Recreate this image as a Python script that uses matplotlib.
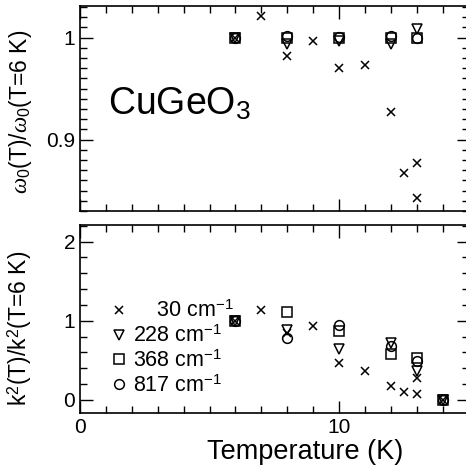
import numpy as np
import matplotlib
matplotlib.use('Agg')
import matplotlib.pyplot as plt
from matplotlib.ticker import MultipleLocator

plt.rcParams['font.family'] = ['Liberation Sans', 'DejaVu Sans']
plt.rcParams['mathtext.fontset'] = 'custom'
plt.rcParams['mathtext.rm'] = 'Liberation Sans'
plt.rcParams['mathtext.it'] = 'Liberation Serif:italic'

# top panel: omega0(T)/omega0(T=6K)
T_top_30 = [6, 7, 8, 9, 10, 11, 12, 12.5, 13, 13]
w_30 = [1.0, 1.021, 0.982, 0.997, 0.970, 0.973, 0.927, 0.867, 0.877, 0.843]
T_top = [6, 8, 10, 12, 13]
w_228 = [1.0, 0.994, 0.997, 0.994, 1.008]
w_368 = [1.0, 1.0, 1.0, 1.0, 1.0]
w_817 = [1.0, 1.002, 1.001, 1.002, 1.0]

# bottom panel: k^2(T)/k^2(T=6K)
T_bot_30 = [6, 7, 8, 9, 10, 11, 12, 12.5, 13, 13, 14]
k_30 = [1.0, 1.13, 0.85, 0.93, 0.46, 0.37, 0.17, 0.105, 0.27, 0.08, 0.0]
T_bot = [6, 8, 10, 12, 13, 14]
k_228 = [1.0, 0.88, 0.64, 0.72, 0.36, 0.0]
k_368 = [1.0, 1.11, 0.87, 0.58, 0.53, 0.0]
k_817 = [1.0, 0.78, 0.95, 0.68, 0.49, 0.0]

labels = ['    30 cm$^{-1}$', '228 cm$^{-1}$', '368 cm$^{-1}$', '817 cm$^{-1}$']

fig = plt.figure(figsize=(4.66, 4.72), dpi=100)
ax1 = fig.add_axes([80 / 466, 1 - 211 / 472, 388.5 / 466, 205 / 472])
ax2 = fig.add_axes([80 / 466, 1 - 413.3 / 472, 388.5 / 466, 188.3 / 472])

mk = dict(linestyle='none', color='black', mfc='none', mew=1.1)


def style(ax):
    ax.set_xlim(0, 15)
    ax.xaxis.set_major_locator(MultipleLocator(10))
    ax.xaxis.set_minor_locator(MultipleLocator(1))
    ax.tick_params(which='both', direction='in', top=True, right=True,
                   labelsize=15, width=1)
    ax.tick_params(which='major', length=9)
    ax.tick_params(which='minor', length=5)
    for s in ax.spines.values():
        s.set_linewidth(1.2)


# top
ax1.plot(T_top, w_368, marker='s', ms=7, **mk)
ax1.plot(T_top, w_817, marker='o', ms=7, **mk)
ax1.plot(T_top, w_228, marker='v', ms=7, **mk)
ax1.plot(T_top_30, w_30, marker='x', ms=6, **mk)
style(ax1)
ax1.set_ylim(0.83, 1.031)
ax1.yaxis.set_minor_locator(MultipleLocator(0.01))
ax1.set_yticks([0.9, 1.0])
ax1.set_yticklabels(['0.9', '1'])
ax1.tick_params(axis='x', labelbottom=False)
ax1.set_ylabel(r'$\omega_0$(T)/$\omega_0$(T=6 K)', fontsize=16.5)
ax1.yaxis.set_label_coords(-0.118, 0.483)
ax1.text(0.072, 0.468, 'CuGeO$_3$', transform=ax1.transAxes,
         fontsize=27, va='baseline')

# bottom
h30, = ax2.plot(T_bot_30, k_30, marker='x', ms=6, **mk)
h228, = ax2.plot(T_bot, k_228, marker='v', ms=7, **mk)
h368, = ax2.plot(T_bot, k_368, marker='s', ms=7, **mk)
h817, = ax2.plot(T_bot, k_817, marker='o', ms=7, **mk)
style(ax2)
ax2.set_ylim(-0.17, 2.21)
ax2.yaxis.set_major_locator(MultipleLocator(1))
ax2.yaxis.set_minor_locator(MultipleLocator(0.2))
ax2.set_ylabel('k$^2$(T)/k$^2$(T=6 K)', fontsize=16.5)
ax2.yaxis.set_label_coords(-0.118, 0.453)
ax2.set_xlabel('Temperature (K)', fontsize=19.5)
ax2.xaxis.set_label_coords(0.58, -0.135)
ax2.legend([h30, h228, h368, h817], labels, loc='upper left',
           bbox_to_anchor=(0.077, 0.597), frameon=False, fontsize=15.5,
           handlelength=0.8, handletextpad=0.28, labelspacing=0.15,
           borderpad=0, borderaxespad=0)

fig.savefig('out.png', dpi=100)
